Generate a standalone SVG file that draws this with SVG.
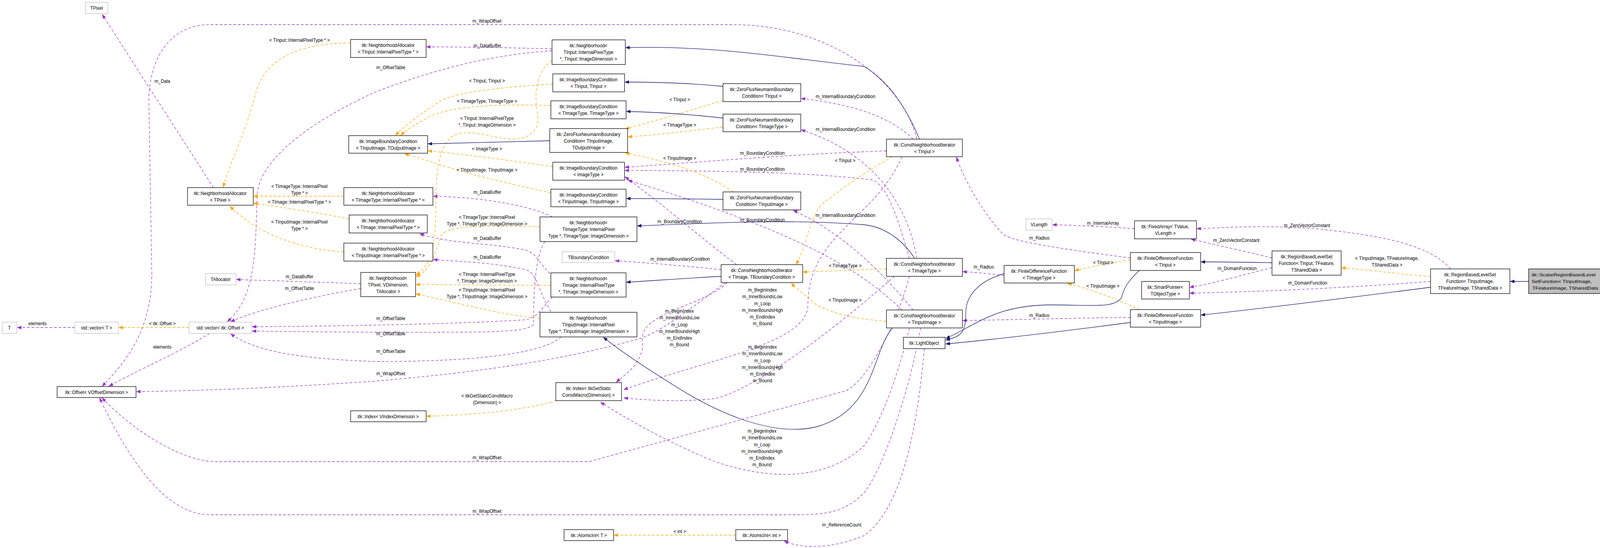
<svg xmlns="http://www.w3.org/2000/svg" width="4285" height="1402" viewBox="0 0 4285 1402">
<style>
text{font-family:"Liberation Sans",Arial,sans-serif;font-size:12px;text-anchor:middle;fill:#000}
.n rect{fill:#fff;stroke:#000;stroke-width:1.3}
.g rect{fill:#fff;stroke:#bfbfbf;stroke-width:1.3}
.s rect{fill:#bfbfbf;stroke:#000;stroke-width:1.3}
.s text{font-size:11.5px;text-anchor:start}
#edges path{fill:none}
.p{stroke:#9a32cd;stroke-width:1.3;stroke-dasharray:7,5;marker-end:url(#ap)}
.o{stroke:#ffa500;stroke-width:1.3;stroke-dasharray:7,5;marker-end:url(#ao)}
.b{stroke:#191970;stroke-width:1.3;marker-end:url(#ab)}
</style>
<defs>
<marker id="ap" markerWidth="12" markerHeight="9" refX="11" refY="4.5" orient="auto" markerUnits="userSpaceOnUse"><path d="M0,0L12,4.5L0,9z" fill="#9a32cd"/></marker>
<marker id="ao" markerWidth="12" markerHeight="9" refX="11" refY="4.5" orient="auto" markerUnits="userSpaceOnUse"><path d="M0,0L12,4.5L0,9z" fill="#ffa500"/></marker>
<marker id="ab" markerWidth="12" markerHeight="9" refX="11" refY="4.5" orient="auto" markerUnits="userSpaceOnUse"><path d="M0,0L12,4.5L0,9z" fill="#191970"/></marker>
</defs>
<rect width="4285" height="1402" fill="#fff"/>
<g id="diagram" transform="scale(0.962,1)">
<g id="edges">
<path class="p" d="M568,480 L272,37"/>
<path class="p" d="M960,726 C850,722 720,718 629,715"/>
<path class="p" d="M960,738 C830,760 690,790 614,823"/>
<path class="p" d="M199,838 L46,838"/>
<path class="p" d="M558,853 C480,900 360,950 290,988"/>
<path class="p" d="M1469,125 C1350,122 1250,120 1135,120"/>
<path class="p" d="M1469,130 C1300,140 1150,180 1000,235 C850,300 690,400 684,500 C680,650 680,760 605,823"/>
<path class="p" d="M1470,555 C1420,530 1300,505 1153,502"/>
<path class="p" d="M1464,700 C1430,670 1430,650 1400,640 C1300,620 1200,625 1117,598"/>
<path class="p" d="M1466,797 C1430,740 1430,700 1400,690 C1300,670 1230,670 1153,664"/>
<path class="p" d="M1470,760 C1440,790 1430,812 1400,818 C1200,830 900,834 671,836"/>
<path class="p" d="M1450,618 C1420,660 1420,780 1420,830 C1400,852 1300,850 1000,850 C850,849 750,848 671,847"/>
<path class="p" d="M1493,862 C1450,900 1300,925 1000,925 C800,918 680,900 614,854"/>
<path class="p" d="M1930,723 C1850,780 1760,850 1700,867 C1500,920 1300,950 1000,975 C700,995 500,1000 363,1002"/>
<path class="p" d="M2440,356 C2400,200 2200,63 1950,63 L560,63 C450,63 400,150 396,250 L404,700 C404,850 330,930 272,988"/>
<path class="p" d="M2420,707 C2380,850 2300,980 2250,1000 L1568,1181 L575,1181 C470,1181 330,1080 272,1018"/>
<path class="p" d="M2450,839 C2420,1000 2350,1200 2300,1260 C2250,1310 2200,1317 2119,1317 L560,1317 C430,1317 330,1150 265,1018"/>
<path class="p" d="M2430,356 C2380,310 2300,270 2132,252"/>
<path class="p" d="M2440,661 C2420,550 2350,400 2132,332"/>
<path class="p" d="M2430,793 C2350,700 2250,600 2111,538"/>
<path class="p" d="M1919,690 C1820,680 1720,672 1637,667"/>
<path class="p" d="M2359,386 C2100,395 1900,412 1663,428"/>
<path class="p" d="M2420,661 C2390,560 2360,470 2320,460 C2150,440 1900,437 1663,436"/>
<path class="p" d="M2400,793 C2300,700 2150,600 1671,461"/>
<path class="p" d="M1960,677 C1880,620 1760,520 1663,452"/>
<path class="p" d="M1935,723 C1880,780 1700,800 1710,870 C1715,930 1660,960 1640,978"/>
<path class="p" d="M2400,401 C2330,560 2150,600 2150,780 C2150,880 1880,920 1660,997"/>
<path class="p" d="M2380,707 C2200,860 2000,1000 1900,1020 C1800,1030 1700,1022 1660,1018"/>
<path class="p" d="M2420,839 C2380,1000 2330,1100 2300,1140 C2200,1230 2050,1230 1900,1180 C1750,1120 1650,1060 1598,1029"/>
<path class="p" d="M2672,705 C2630,700 2600,697 2562,695"/>
<path class="p" d="M3008,660 C2850,640 2700,620 2670,600 C2620,550 2570,470 2545,402"/>
<path class="p" d="M3008,812 C2850,814 2700,818 2562,820"/>
<path class="p" d="M3019,585 C2950,580 2880,577 2801,575"/>
<path class="p" d="M3385,660 C3300,640 3230,625 3170,612"/>
<path class="p" d="M3860,688 C3800,620 3650,600 3500,585 C3350,575 3250,583 3185,585"/>
<path class="p" d="M3385,685 C3300,705 3230,725 3166,735"/>
<path class="p" d="M3807,720 C3600,735 3400,745 3166,750"/>
<path class="p" d="M2460,892 C2440,1100 2400,1300 2300,1370 C2200,1410 2120,1400 2087,1384"/>
<path class="o" d="M933,110 C780,110 700,160 680,240 C650,350 610,420 594,479"/>
<path class="o" d="M915,502 L675,502"/>
<path class="o" d="M929,560 C850,545 750,530 675,520"/>
<path class="o" d="M915,644 C820,640 740,610 700,590 C660,570 630,545 612,528"/>
<path class="o" d="M1469,155 C1430,180 1420,230 1430,290 C1440,340 1400,360 1350,355 C1300,350 1250,330 1210,345 C1170,365 1160,430 1160,520 C1160,620 1150,680 1107,703"/>
<path class="o" d="M1437,580 C1300,578 1200,575 1175,600 C1160,640 1150,690 1107,708"/>
<path class="o" d="M1466,730 L1107,728"/>
<path class="o" d="M1437,815 C1300,800 1200,770 1107,752"/>
<path class="o" d="M1471,215 C1300,225 1200,240 1170,260 C1120,290 1080,320 1052,346"/>
<path class="o" d="M1466,270 C1300,265 1200,275 1150,295 C1110,315 1085,330 1066,346"/>
<path class="o" d="M1471,426 C1350,410 1240,395 1139,386"/>
<path class="o" d="M1466,493 C1350,470 1250,445 1200,430 C1140,412 1100,400 1077,393"/>
<path class="o" d="M1924,257 C1830,285 1740,310 1664,330"/>
<path class="o" d="M1924,325 C1830,335 1750,345 1671,350"/>
<path class="o" d="M1950,491 C1880,440 1760,410 1664,391"/>
<path class="o" d="M2375,401 C2300,440 2230,490 2190,520 C2150,560 2145,640 2118,676"/>
<path class="o" d="M2359,688 C2280,690 2200,694 2137,696"/>
<path class="o" d="M2359,822 C2250,815 2180,790 2160,770 C2130,745 2115,735 2106,724"/>
<path class="o" d="M1480,1025 C1400,1050 1250,1062 1135,1065"/>
<path class="o" d="M503,838 L316,838"/>
<path class="o" d="M1958,1369 L1634,1369"/>
<path class="o" d="M3008,665 C2950,672 2910,682 2860,692"/>
<path class="o" d="M3032,792 C2960,760 2900,740 2841,725"/>
<path class="o" d="M3807,708 C3720,700 3650,692 3570,685"/>
<path class="b" d="M1463,360 C1350,362 1250,366 1139,368"/>
<path class="b" d="M1924,221 C1850,214 1750,210 1663,210"/>
<path class="b" d="M1924,302 C1850,294 1750,287 1667,285"/>
<path class="b" d="M1924,510 C1850,509 1750,508 1667,508"/>
<path class="b" d="M2447,356 C2400,250 2350,200 2300,170 C2100,150 1900,115 1665,122"/>
<path class="b" d="M2434,661 C2400,610 2350,580 2300,575 C2100,560 1900,570 1696,578"/>
<path class="b" d="M1919,707 C1820,712 1740,718 1667,722"/>
<path class="b" d="M2375,839 C2320,900 2330,1050 2173,1092 C2050,1120 1900,1050 1800,990 C1700,930 1640,890 1606,863"/>
<path class="b" d="M2672,700 C2600,720 2570,760 2570,800 C2570,850 2560,860 2517,870"/>
<path class="b" d="M3032,692 C3000,720 2990,740 2985,760 C2970,790 2900,780 2800,780 C2650,780 2600,830 2517,866"/>
<path class="b" d="M3008,825 C2850,845 2650,868 2517,880"/>
<path class="b" d="M3385,672 C3320,671 3260,670 3196,670"/>
<path class="b" d="M3807,735 C3600,760 3400,785 3196,806"/>
<path class="b" d="M4068,720 L4019,720"/>
</g>
<g id="labels">
<text x="432" y="212">m_Data</text>
<text x="797" y="712">m_DataBuffer</text>
<text x="797" y="742">m_OffsetTable</text>
<text x="100" y="832">elements</text>
<text x="432" y="892">elements</text>
<text x="1297" y="121">m_DataBuffer</text>
<text x="1040" y="177">m_OffsetTable</text>
<text x="1297" y="496">m_DataBuffer</text>
<text x="1297" y="614">m_DataBuffer</text>
<text x="1297" y="662">m_DataBuffer</text>
<text x="1040" y="819">m_OffsetTable</text>
<text x="1040" y="858">m_OffsetTable</text>
<text x="1040" y="903">m_OffsetTable</text>
<text x="1040" y="960">m_WrapOffset</text>
<text x="1296" y="58">m_WrapOffset</text>
<text x="1296" y="1175">m_WrapOffset</text>
<text x="1296" y="1312">m_WrapOffset</text>
<text x="2250" y="251">m_InternalBoundaryCondition</text>
<text x="2250" y="335">m_InternalBoundaryCondition</text>
<text x="2250" y="555">m_InternalBoundaryCondition</text>
<text x="1810" y="667">m_InternalBoundaryCondition</text>
<text x="2029" y="396">m_BoundaryCondition</text>
<text x="2029" y="437">m_BoundaryCondition</text>
<text x="2029" y="567">m_BoundaryCondition</text>
<text x="1809" y="571">m_BoundaryCondition</text>
<text x="1808" y="800">m_BeginIndex<tspan x="1808" dy="17.3">m_InnerBoundsLow</tspan><tspan x="1808" dy="17.3">m_Loop</tspan><tspan x="1808" dy="17.3">m_InnerBoundsHigh</tspan><tspan x="1808" dy="17.3">m_EndIndex</tspan><tspan x="1808" dy="17.3">m_Bound</tspan></text>
<text x="2029" y="746">m_BeginIndex<tspan x="2029" dy="17.3">m_InnerBoundsLow</tspan><tspan x="2029" dy="17.3">m_Loop</tspan><tspan x="2029" dy="17.3">m_InnerBoundsHigh</tspan><tspan x="2029" dy="17.3">m_EndIndex</tspan><tspan x="2029" dy="17.3">m_Bound</tspan></text>
<text x="2029" y="892">m_BeginIndex<tspan x="2029" dy="17.3">m_InnerBoundsLow</tspan><tspan x="2029" dy="17.3">m_Loop</tspan><tspan x="2029" dy="17.3">m_InnerBoundsHigh</tspan><tspan x="2029" dy="17.3">m_EndIndex</tspan><tspan x="2029" dy="17.3">m_Bound</tspan></text>
<text x="2028" y="1107">m_BeginIndex<tspan x="2028" dy="17.3">m_InnerBoundsLow</tspan><tspan x="2028" dy="17.3">m_Loop</tspan><tspan x="2028" dy="17.3">m_InnerBoundsHigh</tspan><tspan x="2028" dy="17.3">m_EndIndex</tspan><tspan x="2028" dy="17.3">m_Bound</tspan></text>
<text x="2618" y="687">m_Radius</text>
<text x="2766" y="613">m_Radius</text>
<text x="2766" y="811">m_Radius</text>
<text x="2935" y="575">m_InternalArray</text>
<text x="3290" y="619">m_ZeroVectorConstant</text>
<text x="3478" y="581">m_ZeroVectorConstant</text>
<text x="3292" y="691">m_DomainFunction</text>
<text x="3480" y="728">m_DomainFunction</text>
<text x="2240" y="1347">m_ReferenceCount</text>
<text x="797" y="107">&lt; TInput::InternalPixelType * &gt;</text>
<text x="797" y="481">&lt; TImageType::InternalPixel<tspan x="797" dy="17">Type * &gt;</tspan></text>
<text x="797" y="521">&lt; TImage::InternalPixelType * &gt;</text>
<text x="797" y="572">&lt; TInputImage::InternalPixel<tspan x="797" dy="17">Type * &gt;</tspan></text>
<text x="1296" y="307">&lt; TInput::InternalPixelType<tspan x="1296" dy="17">*, TInput::ImageDimension &gt;</tspan></text>
<text x="1296" y="560">&lt; TImageType::InternalPixel<tspan x="1296" dy="17">Type *, TImageType::ImageDimension &gt;</tspan></text>
<text x="1296" y="706">&lt; TImage::InternalPixelType<tspan x="1296" dy="17">*, TImage::ImageDimension &gt;</tspan></text>
<text x="1296" y="746">&lt; TInputImage::InternalPixel<tspan x="1296" dy="17">Type *, TInputImage::ImageDimension &gt;</tspan></text>
<text x="1296" y="211">&lt; TInput, TInput &gt;</text>
<text x="1296" y="263">&lt; TImageType, TImageType &gt;</text>
<text x="1296" y="385">&lt; ImageType &gt;</text>
<text x="1296" y="439">&lt; TInputImage, TInputImage &gt;</text>
<text x="1809" y="259">&lt; TInput &gt;</text>
<text x="1809" y="324">&lt; TImageType &gt;</text>
<text x="1809" y="409">&lt; TInputImage &gt;</text>
<text x="2249" y="415">&lt; TInput &gt;</text>
<text x="2249" y="684">&lt; TImageType &gt;</text>
<text x="2249" y="772">&lt; TInputImage &gt;</text>
<text x="1296" y="1017">&lt; itkGetStaticConstMacro<tspan x="1296" dy="17">(Dimension) &gt;</tspan></text>
<text x="432" y="832">&lt; itk::Offset &gt;</text>
<text x="1809" y="1364">&lt; int &gt;</text>
<text x="2936" y="676">&lt; TInput &gt;</text>
<text x="2935" y="736">&lt; TInputImage &gt;</text>
<text x="3691" y="665">&lt; TInputImage, TFeatureImage,<tspan x="3691" dy="17">TSharedData &gt;</tspan></text>
</g>
<g id="TPixel" class="g"><rect x="228" y="6" width="59" height="29"/><text x="257" y="25">TPixel</text></g>
<g id="NA_TPixel" class="n"><rect x="499" y="480" width="175" height="45"/><text x="586" y="499">itk::NeighborhoodAllocator<tspan x="586" dy="17">&lt; TPixel &gt;</tspan></text></g>
<g id="NA_TInput" class="n"><rect x="933" y="101" width="201" height="46"/><text x="1033" y="120">itk::NeighborhoodAllocator<tspan x="1033" dy="17">&lt; TInput::InternalPixelType * &gt;</tspan></text></g>
<g id="NA_TImageType" class="n"><rect x="915" y="480" width="237" height="45"/><text x="1033" y="499">itk::NeighborhoodAllocator<tspan x="1033" dy="17">&lt; TImageType::InternalPixelType * &gt;</tspan></text></g>
<g id="NA_TImage" class="n"><rect x="929" y="550" width="208" height="46"/><text x="1033" y="569">itk::NeighborhoodAllocator<tspan x="1033" dy="17">&lt; TImage::InternalPixelType * &gt;</tspan></text></g>
<g id="NA_TInputImage" class="n"><rect x="915" y="622" width="237" height="46"/><text x="1033" y="641">itk::NeighborhoodAllocator<tspan x="1033" dy="17">&lt; TInputImage::InternalPixelType * &gt;</tspan></text></g>
<g id="NH_TPixel" class="n"><rect x="960" y="697" width="146" height="62"/><text x="1033" y="716">itk::Neighborhood&lt;<tspan x="1033" dy="17">TPixel, VDimension,</tspan><tspan x="1033" dy="17">TAllocator &gt;</tspan></text></g>
<g id="TAllocator" class="g"><rect x="547" y="700" width="81" height="29"/><text x="587" y="719">TAllocator</text></g>
<g id="T" class="g"><rect x="6" y="824" width="39" height="29"/><text x="25" y="843">T</text></g>
<g id="vecT" class="g"><rect x="199" y="824" width="116" height="29"/><text x="257" y="843">std::vector&lt; T &gt;</text></g>
<g id="vecOffset" class="g"><rect x="503" y="824" width="167" height="29"/><text x="586" y="843">std::vector&lt; itk::Offset &gt;</text></g>
<g id="Offset" class="n"><rect x="152" y="989" width="210" height="28"/><text x="257" y="1008">itk::Offset&lt; VOffsetDimension &gt;</text></g>
<g id="IndexV" class="n"><rect x="933" y="1051" width="201" height="28"/><text x="1033" y="1070">itk::Index&lt; VIndexDimension &gt;</text></g>
<g id="NH_TInput" class="n"><rect x="1469" y="102" width="195" height="63"/><text x="1566" y="121">itk::Neighborhood&lt;<tspan x="1566" dy="17">TInput::InternalPixelType</tspan><tspan x="1566" dy="17">*, TInput::ImageDimension &gt;</tspan></text></g>
<g id="IBC_TInTIn" class="n"><rect x="1471" y="189" width="191" height="46"/><text x="1566" y="208">itk::ImageBoundaryCondition<tspan x="1566" dy="17">&lt; TInput, TInput &gt;</tspan></text></g>
<g id="IBC_TImgTImg" class="n"><rect x="1466" y="258" width="200" height="46"/><text x="1566" y="277">itk::ImageBoundaryCondition<tspan x="1566" dy="17">&lt; TImageType, TImageType &gt;</tspan></text></g>
<g id="IBC_TInTOut" class="n"><rect x="928" y="347" width="210" height="45"/><text x="1033" y="366">itk::ImageBoundaryCondition<tspan x="1033" dy="17">&lt; TInputImage, TOutputImage &gt;</tspan></text></g>
<g id="ZF_TInTOut" class="n"><rect x="1463" y="329" width="207" height="61"/><text x="1566" y="348">itk::ZeroFluxNeumannBoundary<tspan x="1566" dy="17">Condition&lt; TInputImage,</tspan><tspan x="1566" dy="17">TOutputImage &gt;</tspan></text></g>
<g id="IBC_ImageType" class="n"><rect x="1471" y="415" width="191" height="46"/><text x="1566" y="434">itk::ImageBoundaryCondition<tspan x="1566" dy="17">&lt; ImageType &gt;</tspan></text></g>
<g id="IBC_TInImg" class="n"><rect x="1466" y="484" width="200" height="45"/><text x="1566" y="503">itk::ImageBoundaryCondition<tspan x="1566" dy="17">&lt; TInputImage, TInputImage &gt;</tspan></text></g>
<g id="NH_TImageType" class="n"><rect x="1437" y="555" width="258" height="63"/><text x="1566" y="574">itk::Neighborhood&lt;<tspan x="1566" dy="17">TImageType::InternalPixel</tspan><tspan x="1566" dy="17">Type *, TImageType::ImageDimension &gt;</tspan></text></g>
<g id="TBC" class="g"><rect x="1496" y="644" width="140" height="28"/><text x="1566" y="663">TBoundaryCondition</text></g>
<g id="NH_TImage" class="n"><rect x="1466" y="698" width="200" height="62"/><text x="1566" y="717">itk::Neighborhood&lt;<tspan x="1566" dy="17">TImage::InternalPixelType</tspan><tspan x="1566" dy="17">*, TImage::ImageDimension &gt;</tspan></text></g>
<g id="NH_TInputImage" class="n"><rect x="1437" y="799" width="258" height="63"/><text x="1566" y="818">itk::Neighborhood&lt;<tspan x="1566" dy="17">TInputImage::InternalPixel</tspan><tspan x="1566" dy="17">Type *, TInputImage::ImageDimension &gt;</tspan></text></g>
<g id="IndexG" class="n"><rect x="1479" y="979" width="175" height="46"/><text x="1566" y="998">itk::Index&lt; itkGetStatic<tspan x="1566" dy="17">ConstMacro(Dimension) &gt;</tspan></text></g>
<g id="AtomicT" class="n"><rect x="1501" y="1355" width="132" height="28"/><text x="1567" y="1374">itk::AtomicInt&lt; T &gt;</text></g>
<g id="AtomicInt" class="n"><rect x="1958" y="1355" width="138" height="28"/><text x="2027" y="1374">itk::AtomicInt&lt; int &gt;</text></g>
<g id="ZF_TInput" class="n"><rect x="1924" y="214" width="207" height="46"/><text x="2027" y="233">itk::ZeroFluxNeumannBoundary<tspan x="2027" dy="17">Condition&lt; TInput &gt;</tspan></text></g>
<g id="ZF_TImageType" class="n"><rect x="1924" y="292" width="207" height="45"/><text x="2027" y="311">itk::ZeroFluxNeumannBoundary<tspan x="2027" dy="17">Condition&lt; TImageType &gt;</tspan></text></g>
<g id="ZF_TInputImage" class="n"><rect x="1924" y="491" width="207" height="46"/><text x="2027" y="510">itk::ZeroFluxNeumannBoundary<tspan x="2027" dy="17">Condition&lt; TInputImage &gt;</tspan></text></g>
<g id="CNI_TImgTBC" class="n"><rect x="1919" y="677" width="217" height="46"/><text x="2027" y="696">itk::ConstNeighborhoodIterator<tspan x="2027" dy="17">&lt; TImage, TBoundaryCondition &gt;</tspan></text></g>
<g id="CNI_TInput" class="n"><rect x="2359" y="356" width="202" height="45"/><text x="2460" y="375">itk::ConstNeighborhoodIterator<tspan x="2460" dy="17">&lt; TInput &gt;</tspan></text></g>
<g id="CNI_TImageType" class="n"><rect x="2359" y="661" width="202" height="46"/><text x="2460" y="680">itk::ConstNeighborhoodIterator<tspan x="2460" dy="17">&lt; TImageType &gt;</tspan></text></g>
<g id="CNI_TInputImage" class="n"><rect x="2359" y="793" width="202" height="46"/><text x="2460" y="812">itk::ConstNeighborhoodIterator<tspan x="2460" dy="17">&lt; TInputImage &gt;</tspan></text></g>
<g id="LightObject" class="n"><rect x="2404" y="863" width="111" height="29"/><text x="2459" y="882">itk::LightObject</text></g>
<g id="VLength" class="g"><rect x="2730" y="560" width="70" height="29"/><text x="2765" y="579">VLength</text></g>
<g id="FixedArray" class="n"><rect x="3019" y="565" width="165" height="46"/><text x="3101" y="584">itk::FixedArray&lt; TValue,<tspan x="3101" dy="17">VLength &gt;</tspan></text></g>
<g id="FDF_TInput" class="n"><rect x="3008" y="646" width="187" height="46"/><text x="3101" y="665">itk::FiniteDifferenceFunction<tspan x="3101" dy="17">&lt; TInput &gt;</tspan></text></g>
<g id="FDF_TImageType" class="n"><rect x="2672" y="679" width="187" height="45"/><text x="2765" y="698">itk::FiniteDifferenceFunction<tspan x="2765" dy="17">&lt; TImageType &gt;</tspan></text></g>
<g id="SmartPtr" class="n"><rect x="3038" y="720" width="127" height="45"/><text x="3101" y="739">itk::SmartPointer&lt;<tspan x="3101" dy="17">TObjectType &gt;</tspan></text></g>
<g id="FDF_TInputImage" class="n"><rect x="3008" y="792" width="187" height="45"/><text x="3101" y="811">itk::FiniteDifferenceFunction<tspan x="3101" dy="17">&lt; TInputImage &gt;</tspan></text></g>
<g id="RBLSF_TInput" class="n"><rect x="3385" y="642" width="184" height="62"/><text x="3477" y="661">itk::RegionBasedLevelSet<tspan x="3477" dy="17">Function&lt; TInput, TFeature,</tspan><tspan x="3477" dy="17">TSharedData &gt;</tspan></text></g>
<g id="RBLSF_TInputImage" class="n"><rect x="3807" y="688" width="211" height="63"/><text x="3912" y="707">itk::RegionBasedLevelSet<tspan x="3912" dy="17">Function&lt; TInputImage,</tspan><tspan x="3912" dy="17">TFeatureImage, TSharedData &gt;</tspan></text></g>
<g id="Scalar" class="s"><rect x="4068" y="688" width="211" height="63"/><text x="4076" y="707" textLength="170" lengthAdjust="spacingAndGlyphs">itk::ScalarRegionBasedLevel</text><text x="4076" y="724" textLength="160" lengthAdjust="spacingAndGlyphs">SetFunction&lt; TInputImage,</text><text x="4078" y="741" textLength="186" lengthAdjust="spacingAndGlyphs">TFeatureImage, TSharedData &gt;</text></g>
</g>
</svg>
